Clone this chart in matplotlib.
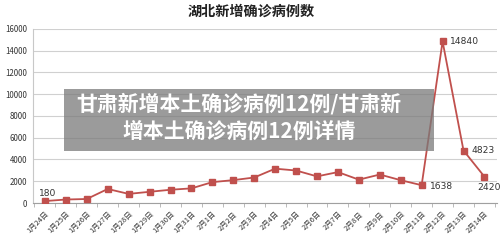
import matplotlib.pyplot as plt
from matplotlib.patches import Rectangle

plt.rcParams['font.family'] = ['Noto Sans CJK SC', 'DejaVu Sans']

dates = ['1月24日', '1月25日', '1月26日', '1月27日', '1月28日', '1月29日', '1月30日',
         '1月31日', '2月1日', '2月2日', '2月3日', '2月4日', '2月5日', '2月6日',
         '2月7日', '2月8日', '2月9日', '2月10日', '2月11日', '2月12日', '2月13日', '2月14日']
cases = [180, 323, 371, 1291, 840, 1032, 1220, 1347, 1921, 2103, 2345, 3156, 2987,
         2447, 2841, 2147, 2618, 2097, 1638, 14840, 4823, 2420]
yticks = [0, 2000, 4000, 6000, 8000, 10000, 12000, 14000, 16000]

red = '#c0504d'

fig = plt.figure(figsize=(5, 2.42), dpi=100)
ax = fig.add_axes([0.066, 0.161, 0.928, 0.72])

x = list(range(len(dates)))
ax.plot(x, cases, color=red, lw=1.3, marker='s', ms=4, zorder=3)

ax.set_xlim(-0.57, 21.6)
ax.set_ylim(0, 16000)
ax.set_yticks(yticks)
ax.set_yticklabels([str(v) for v in yticks], fontsize=5.7, color='#333333')
ax.yaxis.grid(True, color='#d0d0d0', lw=0.8)
ax.set_axisbelow(True)
ax.tick_params(axis='y', length=0, pad=4)

ax.set_xticks(x)
ax.set_xticklabels(dates, rotation=45, ha='right', va='top', fontsize=5.4,
                   color='#333333', rotation_mode='anchor')
ax.set_xticks([i + 0.5 for i in range(-1, len(dates))], minor=True)
ax.tick_params(axis='x', which='major', length=0, pad=5)
ax.tick_params(axis='x', which='minor', length=3, color='#b0b0b0')

for s in ['top', 'right']:
    ax.spines[s].set_visible(False)
ax.spines['left'].set_color('#c8c8c8')
ax.spines['bottom'].set_color('#a0a0a0')

# data labels
lab_style = dict(fontsize=6.6, color='#333333', family='DejaVu Sans')
ax.annotate('180', (0, cases[0]), xytext=(-4, 4), textcoords='offset points', **lab_style)
ax.annotate('1638', (18, cases[18]), xytext=(6, -3), textcoords='offset points', **lab_style)
ax.annotate('14840', (19, cases[19]), xytext=(5, -2), textcoords='offset points', **lab_style)
ax.annotate('4823', (20, cases[20]), xytext=(6, -2), textcoords='offset points', **lab_style)
ax.annotate('2420', (21, cases[21]), xytext=(3, -8), textcoords='offset points',
            ha='center', va='center', **lab_style)

fig.text(0.503, 0.95, '湖北新增确诊病例数', ha='center', va='center', fontsize=10.2,
         fontweight='bold', color='#222222')

# overlay banner
fig.patches.append(Rectangle((64 / 500, 1 - 151 / 242), 370 / 500, 62 / 242,
                             transform=fig.transFigure, facecolor='#7a7a7a',
                             alpha=0.75, edgecolor='none', zorder=5))
fig.text(0.478, 1 - 104 / 242, '甘肃新增本土确诊病例12例/甘肃新', ha='center', va='center',
         fontsize=15, fontweight='bold', color='white', zorder=6)
fig.text(0.478, 1 - 131 / 242, '增本土确诊病例12例详情', ha='center', va='center',
         fontsize=15, fontweight='bold', color='white', zorder=6)

fig.savefig('out.png', dpi=100)
